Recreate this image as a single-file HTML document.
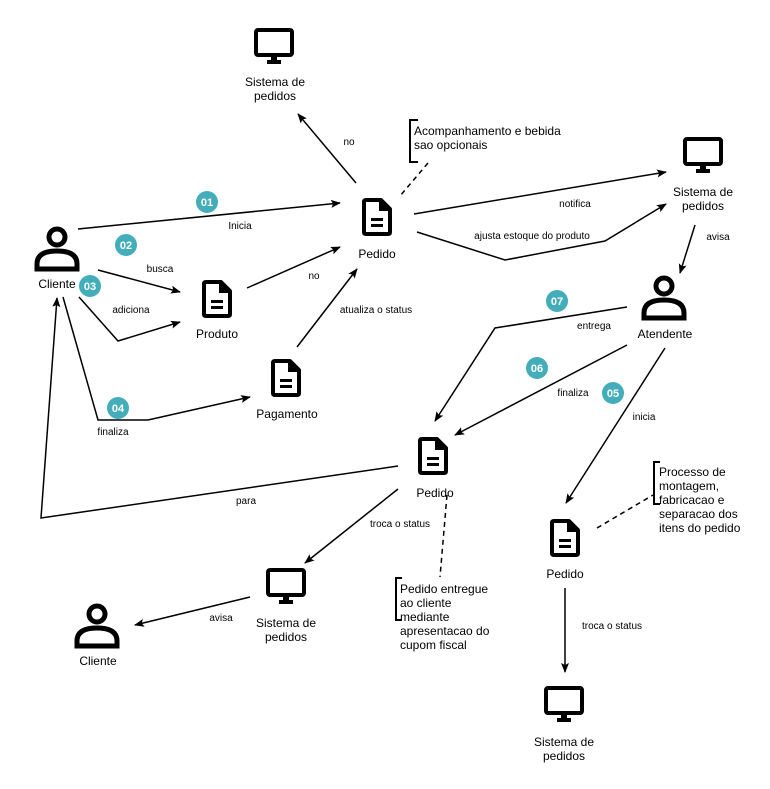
<!DOCTYPE html>
<html><head><meta charset="utf-8"><style>
html,body{margin:0;padding:0;background:#fff}
svg{display:block;font-family:"Liberation Sans",Arial,sans-serif}
.l{font-size:10px;fill:#000}
.n{font-size:12px;fill:#000}
.b{font-size:11px;fill:#fff;font-weight:bold}
</style></head><body>
<svg width="770" height="789" viewBox="0 0 770 789" xmlns="http://www.w3.org/2000/svg">
<defs>
<marker id="a" markerWidth="10" markerHeight="10" refX="9" refY="5" orient="auto" markerUnits="userSpaceOnUse">
<path d="M0,1 L10,5 L0,9 L2,5 z" fill="#000"/></marker>
<g id="doc"><path d="M4,2 H19 L28,11 V34 Q28,36 26,36 H4 Q2,36 2,34 V4 Q2,2 4,2 z" fill="none" stroke="#000" stroke-width="4" stroke-linejoin="round"/><path d="M18,2 V12 H28" fill="#000" stroke="#000" stroke-width="2"/><rect x="9" y="20" width="12" height="3" fill="#000"/><rect x="9" y="26" width="12" height="3" fill="#000"/></g>
<g id="mon"><rect x="2" y="2" width="36" height="25" rx="2" fill="none" stroke="#000" stroke-width="4"/><rect x="17" y="29" width="6" height="4" fill="#000"/><rect x="13" y="32" width="14" height="4" fill="#000"/></g>
<g id="per"><circle cx="23" cy="11" r="8" fill="none" stroke="#000" stroke-width="5"/><path d="M3,43 V38 Q3,25 23,25 Q43,25 43,38 V43 z" fill="none" stroke="#000" stroke-width="5" stroke-linejoin="miter"/></g>
</defs>
<g stroke="#000" stroke-width="1.5" fill="none">
<path d="M78,229 L340,203" marker-end="url(#a)"/>
<path d="M98,270 L180,292" marker-end="url(#a)"/>
<path d="M79,297 L118,341 L180,322" marker-end="url(#a)"/>
<path d="M247,288 L340,247" marker-end="url(#a)"/>
<path d="M297,347 L357,269" marker-end="url(#a)"/>
<path d="M63,297 L98,420 L148,420 L250,397" marker-end="url(#a)"/>
<path d="M356,183 L298,114" marker-end="url(#a)"/>
<path d="M414,214 L666,172" marker-end="url(#a)"/>
<path d="M417,232 L505,260 L605,241 L666,204" marker-end="url(#a)"/>
<path d="M695,225 L680,273" marker-end="url(#a)"/>
<path d="M627,307 L495,328 L435,421" marker-end="url(#a)"/>
<path d="M627,345 L455,435" marker-end="url(#a)"/>
<path d="M665,348 L566,503" marker-end="url(#a)"/>
<path d="M398,466 L41,518 L57,298" marker-end="url(#a)"/>
<path d="M398,489 L305,563" marker-end="url(#a)"/>
<path d="M250,597 L135,625" marker-end="url(#a)"/>
<path d="M565,588 L565,672" marker-end="url(#a)"/>
<g stroke-dasharray="5,4"><path d="M428,163 L400,196"/><path d="M447,495 L440,577"/><path d="M597,528 L653,495"/></g>
<g stroke-width="2"><path d="M418,120 H410 V162 H418"/><path d="M402,578 H396 V620 H402"/><path d="M660,462 H654 V504 H660"/></g>
</g>
<use href="#mon" x="254" y="28"/><use href="#mon" x="683" y="137"/><use href="#mon" x="266" y="568"/><use href="#mon" x="544" y="686"/>
<use href="#doc" x="362" y="198"/><use href="#doc" x="202" y="280"/><use href="#doc" x="271" y="359"/><use href="#doc" x="418" y="437"/><use href="#doc" x="550" y="519"/>
<use href="#per" x="34" y="226"/><use href="#per" x="641" y="275"/><use href="#per" x="74" y="603"/>
<g fill="#43AEBA"><circle cx="207" cy="202" r="11"/><circle cx="126" cy="245" r="11"/><circle cx="90" cy="286" r="11"/><circle cx="118" cy="408" r="11"/><circle cx="557" cy="301" r="11"/><circle cx="537" cy="368" r="11"/><circle cx="613" cy="393" r="11"/></g>
<g class="b" text-anchor="middle"><text x="207" y="206" class="b">01</text><text x="126" y="249" class="b">02</text><text x="90" y="290" class="b">03</text><text x="118" y="412" class="b">04</text><text x="557" y="305" class="b">07</text><text x="537" y="372" class="b">06</text><text x="613" y="397" class="b">05</text></g>
<g text-anchor="middle">
<text class="n" x="275" y="86">Sistema de</text><text class="n" x="275" y="100">pedidos</text>
<text class="n" x="703" y="196">Sistema de</text><text class="n" x="703" y="210">pedidos</text>
<text class="n" x="286" y="627">Sistema de</text><text class="n" x="286" y="641">pedidos</text>
<text class="n" x="564" y="746">Sistema de</text><text class="n" x="564" y="760">pedidos</text>
<text class="n" x="377" y="258">Pedido</text><text class="n" x="217" y="338">Produto</text><text class="n" x="287" y="418">Pagamento</text>
<text class="n" x="435" y="497">Pedido</text><text class="n" x="565" y="578">Pedido</text>
<text class="n" x="57" y="288">Cliente</text><text class="n" x="665" y="338">Atendente</text><text class="n" x="98" y="665">Cliente</text>
<text class="l" x="349" y="145">no</text><text class="l" x="240" y="229">Inicia</text><text class="l" x="160" y="272">busca</text>
<text class="l" x="131" y="313">adiciona</text><text class="l" x="314" y="279">no</text><text class="l" x="376" y="313">atualiza o status</text>
<text class="l" x="113" y="435">finaliza</text><text class="l" x="575" y="207">notifica</text><text class="l" x="532" y="239">ajusta estoque do produto</text>
<text class="l" x="718" y="240">avisa</text><text class="l" x="594" y="329">entrega</text><text class="l" x="573" y="396">finaliza</text>
<text class="l" x="644" y="420">inicia</text><text class="l" x="246" y="504">para</text><text class="l" x="400" y="527">troca o status</text>
<text class="l" x="221" y="621">avisa</text><text class="l" x="612" y="629">troca o status</text>
</g>
<g class="n">
<text x="414" y="135">Acompanhamento e bebida</text><text x="414" y="149">sao opcionais</text>
<text x="400" y="593">Pedido entregue</text><text x="400" y="607">ao cliente</text><text x="400" y="621">mediante</text><text x="400" y="635">apresentacao do</text><text x="400" y="649">cupom fiscal</text>
<text x="659" y="476">Processo de</text><text x="659" y="490">montagem,</text><text x="659" y="504">fabricacao e</text><text x="659" y="518">separacao dos</text><text x="659" y="532">itens do pedido</text>
</g>
</svg>
</body></html>
